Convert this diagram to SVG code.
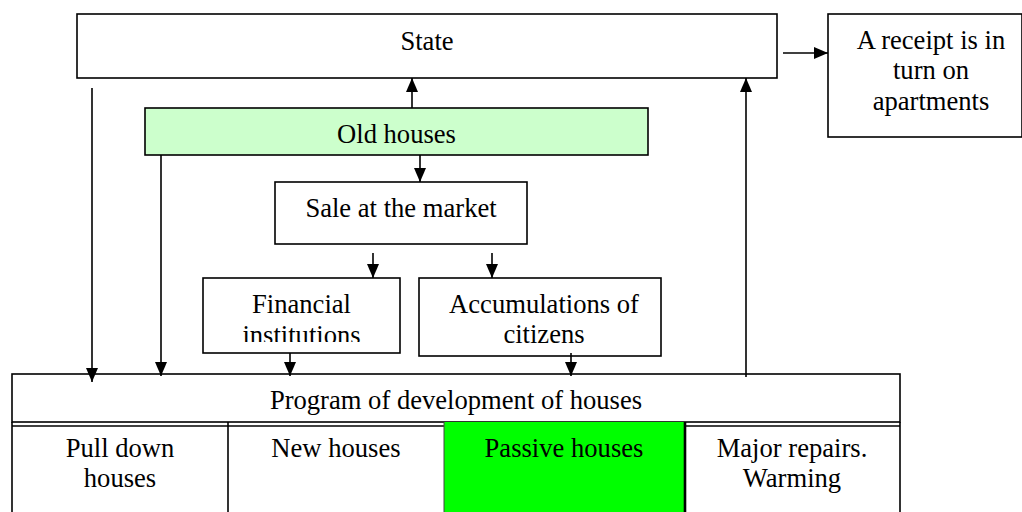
<svg xmlns="http://www.w3.org/2000/svg" width="1022" height="512" viewBox="0 0 1022 512">
<style>
.box{fill:#fff;stroke:#000;stroke-width:1.6}
.t{font-family:'Liberation Serif','Times New Roman',Times,'DejaVu Serif',serif;font-size:26.6px;fill:#000;text-anchor:middle}
.c{stroke:#000;stroke-width:1.6;fill:none;marker-end:url(#ah)}
.ln{stroke:#000;stroke-width:1.6;fill:none}
</style>
<defs>
<marker id="ah" markerUnits="userSpaceOnUse" markerWidth="14" markerHeight="12" refX="14" refY="6" orient="auto">
<path d="M0,0 L14,6 L0,12 z" fill="#000"/>
</marker>
<clipPath id="finclip"><rect x="203" y="278" width="197" height="64"/></clipPath>
</defs>
<rect width="1022" height="512" fill="#fff"/>

<g id="state">
<rect class="box" x="77" y="14" width="700" height="64"/>
<text class="t" x="427" y="50">State</text>
</g>
<g id="receipt">
<rect class="box" x="828" y="14" width="194" height="123"/>
<text class="t" x="931" y="49">A receipt is in</text>
<text class="t" x="931" y="79">turn on</text>
<text class="t" x="931" y="110">apartments</text>
</g>
<g id="old-houses">
<rect class="box" x="145" y="108" width="503" height="47" style="fill:#ccffcc"/>
<text class="t" x="396.5" y="143">Old houses</text>
</g>
<g id="sale">
<rect class="box" x="275" y="182" width="252" height="62"/>
<text class="t" x="401" y="217">Sale at the market</text>
</g>
<g id="financial">
<rect class="box" x="203" y="278" width="197" height="75"/>
<g clip-path="url(#finclip)">
<text class="t" x="301.5" y="313">Financial</text>
<text class="t" x="301.5" y="344">institutions</text>
</g>
</g>
<g id="accumulations">
<rect class="box" x="419" y="278" width="242" height="78"/>
<text class="t" x="544" y="313">Accumulations of</text>
<text class="t" x="544" y="343">citizens</text>
</g>
<g id="program">
<rect class="box" x="12" y="374" width="888" height="48"/>
<text class="t" x="456" y="409">Program of development of houses</text>
</g>
<g id="passive-houses">
<rect x="444" y="422" width="241" height="95" fill="#00ff00"/>
<text class="t" x="564" y="457">Passive houses</text>
</g>
<g id="pull-down">
<text class="t" x="120" y="457">Pull down</text>
<text class="t" x="120" y="487">houses</text>
</g>
<g id="new-houses">
<text class="t" x="336" y="457">New houses</text>
</g>
<g id="major-repairs">
<text class="t" x="792" y="457">Major repairs.</text>
<text class="t" x="792" y="487">Warming</text>
</g>
<g id="table-lines">
<line class="ln" x1="12" y1="426" x2="444" y2="426"/>
<line class="ln" x1="685" y1="426" x2="900" y2="426"/>
<line class="ln" x1="12" y1="422" x2="12" y2="512"/>
<line class="ln" x1="228" y1="422" x2="228" y2="512"/>
<line x1="444" y1="422" x2="444" y2="512" stroke="#444" stroke-width="1"/>
<line x1="685" y1="422" x2="685" y2="512" stroke="#000" stroke-width="2.6"/>
<line class="ln" x1="900" y1="422" x2="900" y2="512"/>
</g>

<g id="connectors">
<line class="c" x1="783" y1="53" x2="828" y2="53"/>
<line class="c" x1="412" y1="108" x2="412" y2="78"/>
<line class="c" x1="420" y1="155" x2="420" y2="182"/>
<line class="c" x1="92" y1="88" x2="92" y2="382"/>
<line class="c" x1="161" y1="155" x2="161" y2="376"/>
<line class="c" x1="373" y1="253" x2="373" y2="278"/>
<line class="c" x1="492" y1="253" x2="492" y2="278"/>
<line class="c" x1="290" y1="353" x2="290" y2="376"/>
<line class="c" x1="571" y1="353" x2="571" y2="376"/>
<line class="c" x1="746" y1="377" x2="746" y2="78"/>
</g>
</svg>
